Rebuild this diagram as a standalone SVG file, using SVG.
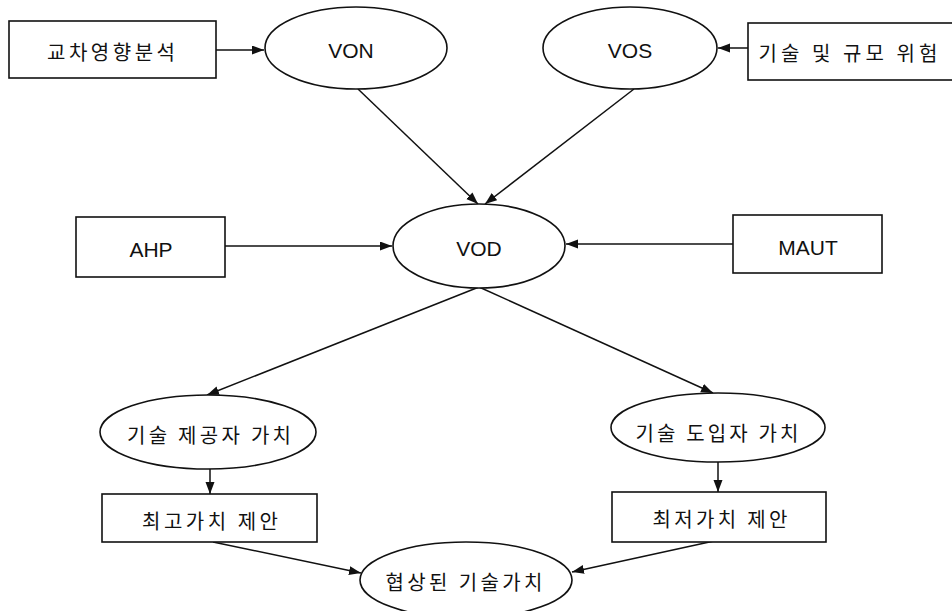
<svg xmlns="http://www.w3.org/2000/svg" width="952" height="611" viewBox="0 0 952 611">
  <defs>
    <marker id="arrow" markerUnits="userSpaceOnUse" markerWidth="13" markerHeight="10" refX="12" refY="4.5" orient="auto">
      <path d="M0,0 L12,4.5 L0,9 z" fill="#111"/>
    </marker>
    <style>
      .shape { fill: #fff; stroke: #111; stroke-width: 1.6; }
      .edge { fill: none; stroke: #111; stroke-width: 1.5; marker-end: url(#arrow); }
      .lat { font-family: "Liberation Sans", Arial, sans-serif; font-size: 21px; fill: #111; text-anchor: middle; dominant-baseline: central; }
      .kor { font-family: "Noto Sans CJK KR", "Noto Sans", sans-serif; font-size: 20px; fill: #111; text-anchor: middle; dominant-baseline: central; }
    </style>
  </defs>
  <rect width="952" height="611" fill="#fff"/>

  <!-- connectors -->
  <g id="connectors">
    <line class="edge" x1="216" y1="50" x2="264" y2="50"/>
    <line class="edge" x1="748" y1="48" x2="718" y2="48"/>
    <line class="edge" x1="358" y1="89" x2="478" y2="204"/>
    <line class="edge" x1="634" y1="89" x2="485" y2="204"/>
    <line class="edge" x1="225" y1="246" x2="392" y2="246"/>
    <line class="edge" x1="733" y1="244" x2="566" y2="244"/>
    <line class="edge" x1="479" y1="287" x2="207" y2="395"/>
    <line class="edge" x1="479" y1="287" x2="713" y2="393"/>
    <line class="edge" x1="210" y1="469" x2="210" y2="494"/>
    <line class="edge" x1="718" y1="462" x2="718" y2="492"/>
    <line class="edge" x1="213" y1="542" x2="361" y2="573"/>
    <line class="edge" x1="714" y1="541" x2="572" y2="572"/>
  </g>

  <!-- nodes -->
  <g id="cross-impact">
    <rect class="shape" x="9" y="21" width="207" height="57"/>
    <text class="kor" x="111" y="51" textLength="128" lengthAdjust="spacing">교차영향분석</text>
  </g>
  <g id="von">
    <ellipse class="shape" cx="356" cy="48" rx="91" ry="41"/>
    <text class="lat" x="351" y="50">VON</text>
  </g>
  <g id="vos">
    <ellipse class="shape" cx="630" cy="48" rx="87" ry="41"/>
    <text class="lat" x="630" y="50">VOS</text>
  </g>
  <g id="tech-risk">
    <rect class="shape" x="748" y="23" width="215" height="57"/>
    <text class="kor" x="848" y="52" textLength="179" lengthAdjust="spacing">기술 및 규모 위험</text>
  </g>
  <g id="ahp">
    <rect class="shape" x="76" y="217" width="149" height="60"/>
    <text class="lat" x="151" y="249">AHP</text>
  </g>
  <g id="vod">
    <ellipse class="shape" cx="479" cy="246" rx="86" ry="42"/>
    <text class="lat" x="479" y="248">VOD</text>
  </g>
  <g id="maut">
    <rect class="shape" x="733" y="215" width="149" height="58"/>
    <text class="lat" x="808" y="247">MAUT</text>
  </g>
  <g id="provider-value">
    <ellipse class="shape" cx="208" cy="432" rx="108" ry="37"/>
    <text class="kor" x="209" y="434" textLength="164" lengthAdjust="spacing">기술 제공자 가치</text>
  </g>
  <g id="adopter-value">
    <ellipse class="shape" cx="718" cy="427.5" rx="107" ry="34.5"/>
    <text class="kor" x="717" y="432" textLength="163" lengthAdjust="spacing">기술 도입자 가치</text>
  </g>
  <g id="max-offer">
    <rect class="shape" x="102" y="494" width="215" height="48"/>
    <text class="kor" x="210" y="520" textLength="136" lengthAdjust="spacing">최고가치 제안</text>
  </g>
  <g id="min-offer">
    <rect class="shape" x="612" y="492" width="214" height="50"/>
    <text class="kor" x="720" y="518" textLength="135" lengthAdjust="spacing">최저가치 제안</text>
  </g>
  <g id="negotiated">
    <ellipse class="shape" cx="466" cy="580" rx="106" ry="38"/>
    <text class="kor" x="464" y="581" textLength="157" lengthAdjust="spacing">협상된 기술가치</text>
  </g>
</svg>
